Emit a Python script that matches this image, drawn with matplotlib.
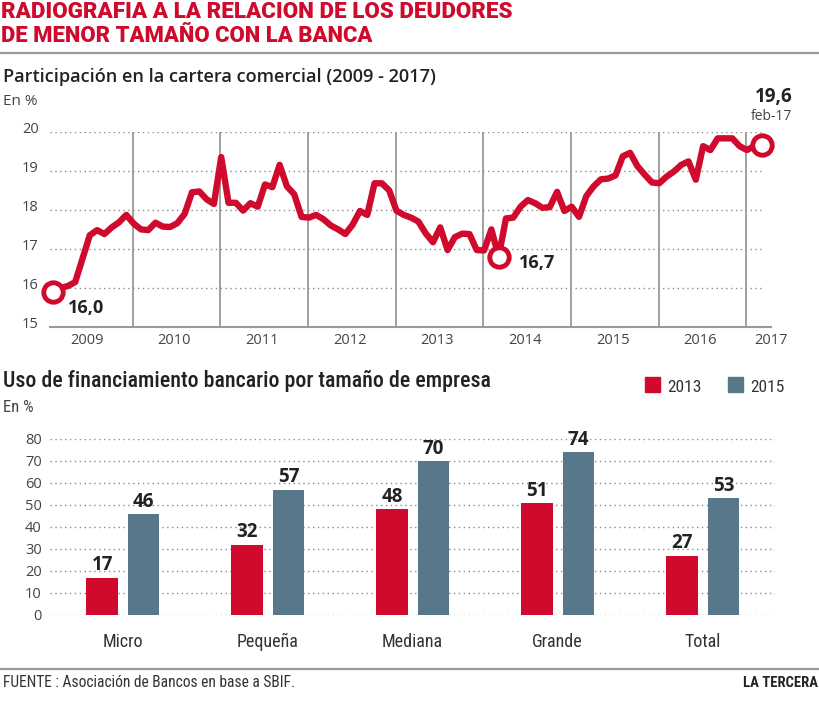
import numpy as np
import matplotlib
matplotlib.use('Agg')
import matplotlib.pyplot as plt
import matplotlib.transforms as mtransforms
from matplotlib import font_manager
from matplotlib.patches import Rectangle

# ---------------- datos ----------------
# participacion mensual, ene-2009 ... feb-2017 (en %)
participacion = [
    15.9, 16.0, 16.05, 16.15, 16.75, 17.35, 17.48, 17.38, 17.55, 17.68, 17.87, 17.65,
    17.5, 17.48, 17.67, 17.57, 17.56, 17.66, 17.9, 18.45, 18.47, 18.27, 18.15, 19.35,
    18.18, 18.18, 17.98, 18.17, 18.08, 18.65, 18.58, 19.15, 18.6, 18.4, 17.82, 17.8,
    17.87, 17.76, 17.6, 17.5, 17.38, 17.62, 17.97, 17.87, 18.68, 18.68, 18.5, 17.98,
    17.87, 17.8, 17.7, 17.4, 17.17, 17.55, 16.97, 17.3, 17.39, 17.38, 16.97, 16.96,
    17.5, 16.8, 17.78, 17.8, 18.08, 18.25, 18.17, 18.05, 18.07, 18.46, 17.97, 18.08,
    17.82, 18.35, 18.6, 18.78, 18.8, 18.88, 19.37, 19.46, 19.12, 18.9, 18.7, 18.68,
    18.85, 18.98, 19.15, 19.24, 18.77, 19.63, 19.53, 19.83, 19.83, 19.83, 19.63, 19.53,
    19.63, 19.67,
]
meses = np.arange(len(participacion))
anios = ['2009', '2010', '2011', '2012', '2013', '2014', '2015', '2016', '2017']
destacados = [0, 61, 97]
textos_destacados = ['16,0', '16,7', '19,6']

categorias = ['Micro', 'Pequeña', 'Mediana', 'Grande', 'Total']
uso_2013 = [17, 32, 48, 51, 27]
uso_2015 = [46, 57, 70, 74, 53]

ROJO = '#cf0a2c'
AZUL = '#56788a'
GRIS = '#999999'
TEXTO = '#222222'

disponibles = {f.name for f in font_manager.fontManager.ttflist}


def elegir(*nombres):
    for n in nombres:
        if n in disponibles:
            return n
    return 'DejaVu Sans'


ESTRECHA = elegir('Roboto Condensed', 'Liberation Sans Narrow', 'Roboto')
NORMAL = elegir('Open Sans', 'Noto Sans', 'Lato')
TITULO = elegir('Roboto', 'Inter', 'Lato')

W, H = 820, 714
fig = plt.figure(figsize=(W / 100, H / 100), dpi=100)
renderer = fig.canvas.get_renderer()


def fx(px):
    return px / W


def fy(py):
    return 1 - py / H


def texto(x, y, s, ancho=None, **kw):
    t = fig.text(fx(x), fy(y), s, **kw)
    if ancho is not None:
        w = t.get_window_extent(renderer).width
        t.set_fontsize(t.get_fontsize() * ancho / w)
    return t


# ---------------- cabecera ----------------
texto(1, 18.3, 'RADIOGRAFIA A LA RELACION DE LOS DEUDORES', ancho=512,
      family=TITULO, weight='black', fontsize=15, color=ROJO, va='baseline')
texto(1, 41.7, 'DE MENOR TAMAÑO CON LA BANCA', ancho=372,
      family=TITULO, weight='black', fontsize=15, color=ROJO, va='baseline')
fig.add_artist(plt.Line2D([0, 1], [fy(53), fy(53)], color=GRIS, lw=1.6))

texto(3, 81.5, 'Participación en la cartera comercial (2009 - 2017)', ancho=431,
      family=NORMAL, weight='semibold', fontsize=13, color=TEXTO, va='baseline')
texto(3, 105, 'En %', family=NORMAL, fontsize=11, color='#444444', va='baseline')

# ---------------- grafico de linea ----------------
ax1 = fig.add_axes([fx(50), fy(327), (771 - 50) / W, (327 - 131.7) / H])
ax1.set_xlim(-0.45, 97.4)
ax1.set_ylim(15, 20)
for s in ['top', 'right', 'left']:
    ax1.spines[s].set_visible(False)
ax1.spines['bottom'].set_color(GRIS)
ax1.spines['bottom'].set_linewidth(1.5)

for v in range(16, 21):
    ax1.plot([-0.45, 96.9], [v, v], color='#8a8a8a', lw=1, ls=(0, (1, 2.5)), zorder=1)
for k in range(8):
    ax1.axvline(12 * k + 10.9, color=GRIS, lw=1.3, zorder=1)

ax1.plot(meses, participacion, color=ROJO, lw=4.6, zorder=3, solid_capstyle='round')
ax1.plot(meses[destacados], [participacion[i] for i in destacados], 'o', ms=14,
         mfc='white', mec=ROJO, mew=3.5, zorder=4, clip_on=False)

ax1.set_yticks(range(15, 21))
ax1.set_yticklabels([str(v) for v in range(15, 21)], family=NORMAL, fontsize=10.5,
                    color='#444444')
ax1.tick_params(axis='y', length=0, pad=8)
desplaza = mtransforms.ScaledTranslation(0, 0.045, fig.dpi_scale_trans)
for lab in ax1.get_yticklabels():
    lab.set_transform(lab.get_transform() + desplaza)

ax1.set_xticks([12 * k + 4.6 for k in range(8)] + [98.3])
ax1.set_xticklabels(anios, family=NORMAL, fontsize=10.5, color='#444444')
ax1.tick_params(axis='x', length=0, pad=4)

# etiquetas de los puntos destacados
texto(68, 313, textos_destacados[0], family=NORMAL, weight='bold', fontsize=13,
      color=TEXTO, va='baseline')
texto(519, 268, textos_destacados[1], family=NORMAL, weight='bold', fontsize=13,
      color=TEXTO, va='baseline')
texto(793, 101.7, textos_destacados[2], family=NORMAL, weight='bold', fontsize=13.5,
      color=TEXTO, va='baseline', ha='right')
texto(792, 120, 'feb-17', family=NORMAL, fontsize=10, color='#444444',
      va='baseline', ha='right')

# ---------------- grafico de barras ----------------
texto(3, 386.7, 'Uso de financiamiento bancario por tamaño de empresa', ancho=487,
      family=ESTRECHA, weight='medium', fontsize=13, color=TEXTO, va='baseline')
texto(3, 412, 'En %', family=ESTRECHA, fontsize=12, color='#444444', va='baseline')

for x0, color, lab in [(645, ROJO, '2013'), (728, AZUL, '2015')]:
    fig.add_artist(Rectangle((fx(x0), fy(392)), 15 / W, 15 / H, color=color,
                             transform=fig.transFigure))
    texto(x0 + 22, 392, lab, family=ESTRECHA, fontsize=12.5, color='#333333',
          va='baseline')

ax2 = fig.add_axes([fx(50), fy(615), 725 / W, 176 / H])
ax2.set_xlim(-0.5, 4.5)
ax2.set_ylim(0, 80)
for s in ax2.spines.values():
    s.set_visible(False)
for v in range(0, 81, 10):
    ax2.plot([-0.5, 4.5], [v, v], color='#8a8a8a', lw=1, ls=(0, (1, 2.5)), zorder=1)

x = np.arange(len(categorias))
b1 = ax2.bar(x - 0.14, uso_2013, 0.22, color=ROJO, zorder=2)
b2 = ax2.bar(x + 0.145, uso_2015, 0.22, color=AZUL, zorder=2)
for barras in (b1, b2):
    for b in barras:
        ax2.text(b.get_x() + b.get_width() / 2, b.get_height() + 1, f'{b.get_height():.0f}',
                 ha='center', va='bottom', family=NORMAL, weight='bold', fontsize=13.5,
                 color=TEXTO)

ax2.set_yticks(range(0, 81, 10))
ax2.set_yticklabels([str(v) for v in range(0, 81, 10)], family=NORMAL, fontsize=10.5,
                    color='#444444')
ax2.tick_params(axis='y', length=0, pad=6)
ax2.set_xticks(x)
ax2.set_xticklabels(categorias, family=ESTRECHA, fontsize=13, color='#333333')
ax2.tick_params(axis='x', length=0, pad=13)

# ---------------- pie ----------------
fig.add_artist(plt.Line2D([0, 1], [fy(669), fy(669)], color=GRIS, lw=1.6))
texto(3, 687, 'FUENTE : Asociación de Bancos en base a SBIF.', ancho=292,
      family=ESTRECHA, fontsize=10, color='#333333', va='baseline')
texto(818, 687, 'LA TERCERA', family=ESTRECHA, weight='bold', fontsize=10.5,
      color=TEXTO, va='baseline', ha='right')

fig.savefig('out.png', dpi=100)
